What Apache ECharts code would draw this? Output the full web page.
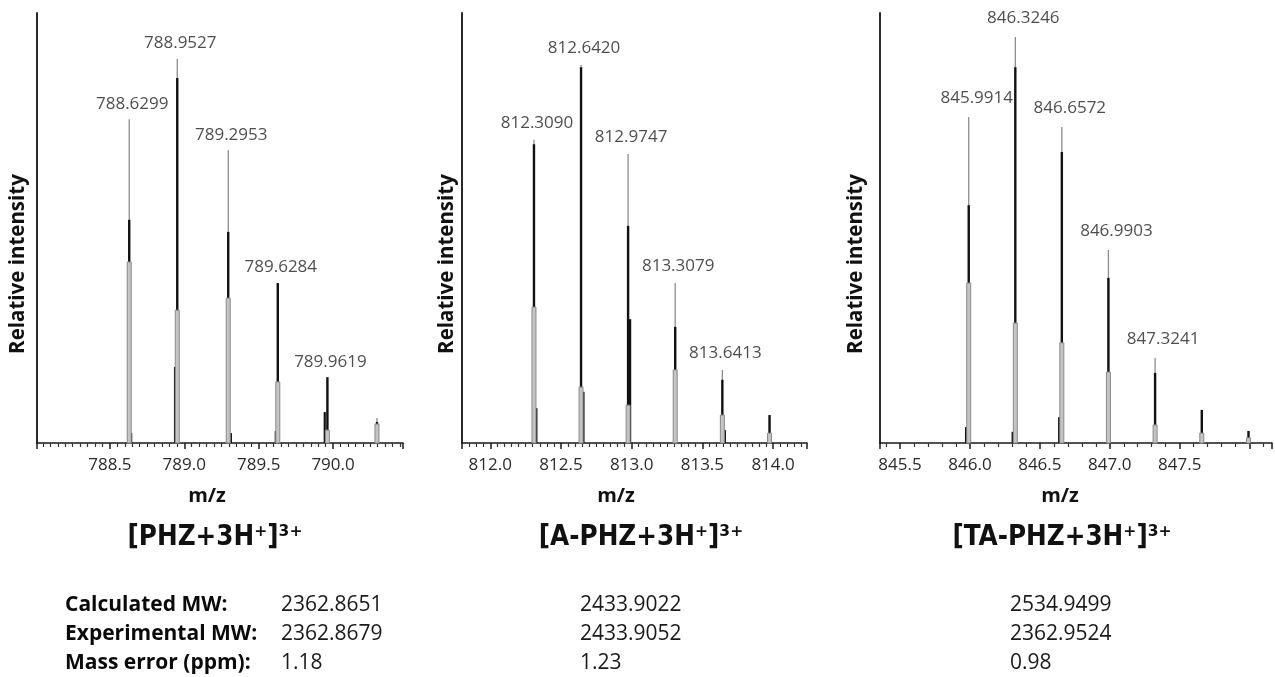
<!DOCTYPE html>
<html>
<head>
<meta charset="utf-8">
<script src="https://cdn.jsdelivr.net/npm/echarts@6/dist/echarts.min.js"></script>
<style>html,body{margin:0;padding:0;background:#fff}#c{width:1275px;height:677px}</style>
</head>
<body>
<div id="c"></div>
<script>
// ---------- DATA ----------
// Panel 1: [PHZ+3H+]3+
const mz1    = [788.6299, 788.9527, 789.2953, 789.6284, 789.9619, 790.2950];
const theo1  = [75.3, 89.3, 68.1, 36.5, 14.4, 5.8];   // theoretical (grey stick)
const exp1   = [51.9, 84.9, 49.1, 37.2, 15.3, 4.9];   // experimental (black stick)
const prof1  = [42.1, 30.9, 33.7, 14.2, 3.0, 4.4];    // theoretical profile base (grey)
const satMz1 = [788.6430, 788.9377, 789.3130, 789.6150, 789.9440];
const sat1   = [2.3, 17.7, 2.3, 2.8, 7.2];
const peakLabels1 = ['788.6299', '788.9527', '789.2953', '789.6284', '789.9619'];
const ticks1 = ['788.5', '789.0', '789.5', '790.0'];

// Panel 2: [A-PHZ+3H+]3+
const mz2    = [812.3090, 812.6420, 812.9747, 813.3079, 813.6413, 813.9750];
const theo2  = [70.5, 87.9, 67.2, 37.2, 17.0, 5.1];
const exp2   = [69.5, 87.4, 50.5, 27.0, 14.7, 6.5];
const prof2  = [31.6, 13.0, 8.8, 17.0, 6.5, 2.3];
const satMz2 = [812.3260, 812.6590, 812.9890, 813.6590];
const sat2   = [8.1, 11.9, 28.8, 3.0];
const peakLabels2 = ['812.3090', '812.6420', '812.9747', '813.3079', '813.6413'];
const ticks2 = ['812.0', '812.5', '813.0', '813.5', '814.0'];

// Panel 3: [TA-PHZ+3H+]3+
const mz3    = [845.9914, 846.3246, 846.6572, 846.9903, 847.3241, 847.6580, 847.9920];
const theo3  = [75.8, 94.4, 73.5, 44.9, 19.8, 6.5, 2.0];
const exp3   = [55.3, 87.4, 67.7, 38.4, 16.3, 7.7, 2.8];
const prof3  = [37.2, 27.9, 23.3, 16.5, 4.2, 2.3, 1.2];
const satMz3 = [845.9724, 846.3056, 846.6382];
const sat3   = [3.7, 2.6, 6.0];
const peakLabels3 = ['845.9914', '846.3246', '846.6572', '846.9903', '847.3241'];
const ticks3 = ['845.5', '846.0', '846.5', '847.0', '847.5'];

// Axis ranges (m/z)
const xRange1 = [788.01, 790.47];
const xRange2 = [811.80, 814.24];
const xRange3 = [845.357, 848.16];

// Texts
const compoundNames = ['[PHZ+3H\u207A]\u00B3\u207A', '[A-PHZ+3H\u207A]\u00B3\u207A', '[TA-PHZ+3H\u207A]\u00B3\u207A'];
const rowLabels = ['Calculated MW:', 'Experimental MW:', 'Mass error (ppm):'];
const calcMW  = ['2362.8651', '2433.9022', '2534.9499'];
const expMW   = ['2362.8679', '2433.9052', '2362.9524'];
const massErr = ['1.18', '1.23', '0.98'];

// ---------- CHART ----------
const chart = echarts.init(document.getElementById('c'), null, {renderer: 'canvas'});
const FONT = "'Open Sans', 'Noto Sans', sans-serif";
const TFONT = "'DejaVu Sans Condensed', 'DejaVu Sans', sans-serif";

const grids = [
  {left: 37, top: 13, width: 366, height: 430},
  {left: 462, top: 13, width: 345, height: 430},
  {left: 880, top: 13, width: 392, height: 430}
];
const panels = [
  {mz: mz1, theo: theo1, exp: exp1, prof: prof1, satMz: satMz1, sat: sat1, labels: peakLabels1, ticks: ticks1, range: xRange1, minor: 10, lblOffset: [3, 0], lblDist: 7},
  {mz: mz2, theo: theo2, exp: exp2, prof: prof2, satMz: satMz2, sat: sat2, labels: peakLabels2, ticks: ticks2, range: xRange2, minor: 10, lblOffset: [3, 0], lblDist: 8},
  {mz: mz3, theo: theo3, exp: exp3, prof: prof3, satMz: satMz3, sat: sat3, labels: peakLabels3, ticks: ticks3, range: xRange3, minor: 5, lblOffset: [8, 0], lblDist: 10}
];

function stick(color, width) {
  return function (params, api) {
    const p0 = api.coord([api.value(0), 0]);
    const p1 = api.coord([api.value(0), api.value(1)]);
    return {type: 'line', shape: {x1: p0[0], y1: p0[1], x2: p1[0], y2: p1[1]},
            style: {stroke: color, lineWidth: width}};
  };
}
function profile(params, api) {
  const p0 = api.coord([api.value(0), 0]);
  const p1 = api.coord([api.value(0), api.value(1)]);
  return {type: 'rect', shape: {x: p1[0] - 2, y: p1[1], width: 4, height: p0[1] - p1[1]},
          style: {fill: '#c4c4c4', stroke: '#8a8a8a', lineWidth: 1}};
}

const xAxes = [], yAxes = [], series = [];
panels.forEach((p, i) => {
  xAxes.push({
    type: 'value', gridIndex: i, min: p.range[0], max: p.range[1], splitNumber: 5,
    axisLine: {show: true, onZero: false, lineStyle: {color: '#1a1a1a', width: 1.5}},
    axisTick: {show: true, length: 6, lineStyle: {color: '#1a1a1a', width: 1.5}},
    minorTick: {show: true, splitNumber: p.minor, length: 4, lineStyle: {color: '#333', width: 1.2}},
    splitLine: {show: false},
    axisLabel: {
      show: true, margin: 14, color: '#2a2a2a', fontSize: 17, fontFamily: FONT,
      showMinLabel: false, showMaxLabel: false,
      formatter: v => { const s = v.toFixed(1); return p.ticks.includes(s) ? s : ''; }
    }
  });
  yAxes.push({
    type: 'value', gridIndex: i, min: 0, max: 100,
    axisLine: {show: true, lineStyle: {color: '#2a2a2a', width: 2}},
    axisTick: {show: false}, axisLabel: {show: false}, splitLine: {show: false}
  });
  const common = {type: 'custom', xAxisIndex: i, yAxisIndex: i, encode: {x: 0, y: 1}, silent: true};
  series.push(Object.assign({}, common, {renderItem: stick('#8c8c8c', 1.3), z: 2,
    data: p.mz.map((m, k) => [m, p.theo[k]])}));
  series.push(Object.assign({}, common, {renderItem: stick('#111111', 2.4), z: 3,
    data: p.mz.map((m, k) => [m, p.exp[k]])}));
  series.push(Object.assign({}, common, {renderItem: stick('#111111', 2.2), z: 3,
    data: p.satMz.map((m, k) => [m, p.sat[k]])}));
  series.push(Object.assign({}, common, {renderItem: profile, z: 4,
    data: p.mz.map((m, k) => [m, p.prof[k]])}));
  series.push({
    type: 'scatter', xAxisIndex: i, yAxisIndex: i, symbolSize: 0, silent: true, z: 5,
    data: p.labels.map((l, k) => [p.mz[k], Math.max(p.theo[k], p.exp[k])]),
    label: {show: true, position: 'top', distance: p.lblDist, offset: p.lblOffset,
            formatter: q => p.labels[q.dataIndex], color: '#222', fontSize: 17, fontFamily: FONT}
  });
});

const graphic = [];
// y-axis names
[18, 447, 856].forEach(x => graphic.push({type: 'text', x: x, y: 264, rotation: Math.PI / 2,
  style: {text: 'Relative intensity', fontSize: 20.5, fontWeight: 'bold', fontFamily: FONT, fill: '#111',
          textAlign: 'center', textVerticalAlign: 'middle'}}));
// x-axis names
[207, 616, 1060].forEach(x => graphic.push({type: 'text', x: x, y: 496,
  style: {text: 'm/z', fontSize: 20, fontWeight: 'bold', fontFamily: FONT, fill: '#111',
          textAlign: 'center', textVerticalAlign: 'middle'}}));
// compound titles
[215, 641, 1062].forEach((x, i) => graphic.push({type: 'text', x: x, y: 538,
  style: {text: compoundNames[i], fontSize: 27.5, fontWeight: 'bold', fontFamily: TFONT, fill: '#111',
          textAlign: 'center', textVerticalAlign: 'middle'}}));
// table
const rowY = [605, 634, 663];
rowLabels.forEach((t, r) => graphic.push({type: 'text', x: 65, y: rowY[r],
  style: {text: t, fontSize: 21, fontWeight: 'bold', fontFamily: FONT, fill: '#0a0a0a',
          textAlign: 'left', textVerticalAlign: 'middle'}}));
const colX = [281, 580, 1010];
[calcMW, expMW, massErr].forEach((arr, r) => arr.forEach((t, c) => graphic.push({type: 'text', x: colX[c], y: rowY[r],
  style: {text: t, fontSize: 21, fontFamily: FONT, fill: '#1a1a1a', textAlign: 'left', textVerticalAlign: 'middle'}})));

chart.setOption({
  animation: false,
  backgroundColor: '#ffffff',
  grid: grids,
  xAxis: xAxes,
  yAxis: yAxes,
  series: series,
  graphic: graphic
});
</script>
</body>
</html>
